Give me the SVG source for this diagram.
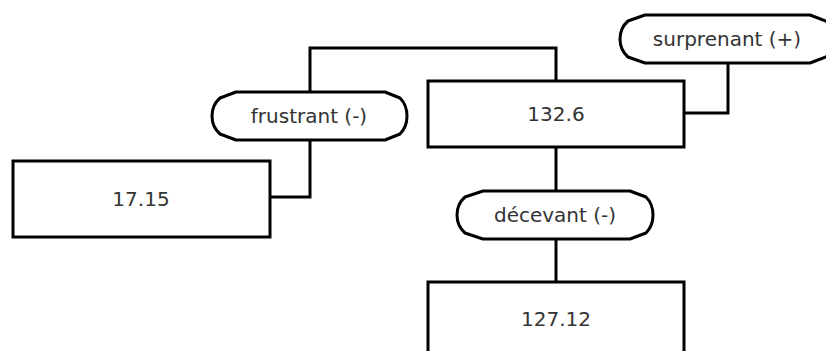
<svg xmlns="http://www.w3.org/2000/svg" width="826" height="351" viewBox="0 0 826 351">
  <style>
    .box { fill: #ffffff; stroke: #000000; stroke-width: 3; }
    .tag { fill: #ffffff; stroke: #000000; stroke-width: 3; stroke-linejoin: round; }
    .wire { fill: none; stroke: #000000; stroke-width: 3; stroke-linejoin: miter; }
    .lbl { font-family: "DejaVu Sans", sans-serif; font-size: 20px; fill: #333333; text-anchor: middle; }
  </style>
  <rect width="826" height="351" fill="#ffffff"/>

  <!-- connectors -->
  <g id="connectors">
    <path class="wire" d="M 310 92 V 48 H 556 V 81"/>
    <path class="wire" d="M 310 140 V 197 H 270"/>
    <path class="wire" d="M 728 63 V 113 H 684"/>
    <path class="wire" d="M 556 147 V 191"/>
    <path class="wire" d="M 556 239 V 282"/>
  </g>

  <!-- value boxes -->
  <g id="node-132-6">
    <rect class="box" x="428" y="81" width="256" height="66"/>
    <text class="lbl" x="556" y="121">132.6</text>
  </g>
  <g id="node-17-15">
    <rect class="box" x="13" y="161" width="257" height="76"/>
    <text class="lbl" x="141" y="206">17.15</text>
  </g>
  <g id="node-127-12">
    <rect class="box" x="428" y="282" width="256" height="80"/>
    <text class="lbl" x="556" y="326">127.12</text>
  </g>

  <!-- edge labels -->
  <g id="label-frustrant">
    <path class="tag" d="M 236 92 H 385 L 400 98 Q 407 105 407 116 Q 407 127 400 134 L 385 140 H 236 L 220 134 Q 212 127 212 116 Q 212 105 220 98 Z"/>
    <text class="lbl" x="309" y="123">frustrant (-)</text>
  </g>
  <g id="label-surprenant">
    <path class="tag" d="M 645 15 H 810 L 826 21 Q 834 28 834 39 Q 834 50 826 57 L 810 63 H 645 L 628 57 Q 620 50 620 39 Q 620 28 628 21 Z"/>
    <text class="lbl" x="727" y="46">surprenant (+)</text>
  </g>
  <g id="label-decevant">
    <path class="tag" d="M 483 191 H 630 L 646 197 Q 653 204 653 215 Q 653 226 646 233 L 630 239 H 483 L 465 233 Q 457 226 457 215 Q 457 204 465 197 Z"/>
    <text class="lbl" x="555" y="222">décevant (-)</text>
  </g>
</svg>
